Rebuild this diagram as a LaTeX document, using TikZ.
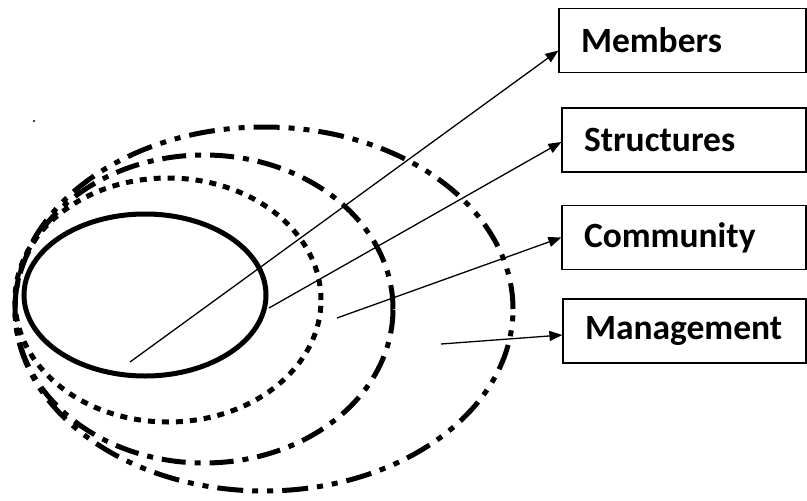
\documentclass[tikz,border=0pt]{standalone}
\usepackage{fontspec}
\setmainfont{Carlito}
\usetikzlibrary{arrows.meta}
\begin{document}
\begin{tikzpicture}[x=1pt,y=-1pt,
  ring/.style={line width=5pt},
  ringdots/.style={ring,dash pattern=on 7pt off 7pt},
  ringdashdot/.style={ring,dash pattern=on 24pt off 9pt on 6pt off 9pt},
  ringdashdotdot/.style={ring,dash pattern=on 26pt off 9pt on 6pt off 9pt on 6pt off 9pt},
  label box/.style={draw,line width=1.2pt,minimum height=64pt,inner xsep=22pt,
    align=left,font=\fontsize{35.5}{42}\selectfont\bfseries},
  pointer/.style={line width=1.3pt,-{Triangle[length=13pt,width=10pt]}}]
\useasboundingbox (0,0) rectangle (807,501);
\fill[white] (0,0) rectangle (807,501);

% nested rings
\draw[ring] (145,295) ellipse [x radius=121pt, y radius=81pt];
\draw[ringdots] (168,300) ellipse [x radius=153pt, y radius=122pt];
\draw[ringdashdot] (204,309) ellipse [x radius=189pt, y radius=154pt];
\draw[ringdashdotdot] (264,309) ellipse [x radius=249pt, y radius=182pt];
\fill (34,121) circle [radius=1.2pt];

% labels
\node[label box,text width=203pt] (members) at (682.5,40.5) {Members};
\node[label box,text width=200pt] (structures) at (684,140) {Structures};
\node[label box,text width=200pt] (community) at (684,237.5) {Community};
\node[label box,text width=199pt] (management) at (684.5,331) {Management};

% pointer start points inside the rings
\coordinate (pm) at (130,362);
\coordinate (ps) at (269,308);
\coordinate (pc) at (337,318);
\coordinate (pg) at (441,344);

\draw[pointer] (pm) -- ([yshift=-10pt]members.west);
\draw[pointer] (ps) -- ([yshift=-2pt]structures.west);
\draw[pointer] (pc) -- (community.west);
\draw[pointer] (pg) -- ([yshift=-4pt]management.west);
\end{tikzpicture}
\end{document}
